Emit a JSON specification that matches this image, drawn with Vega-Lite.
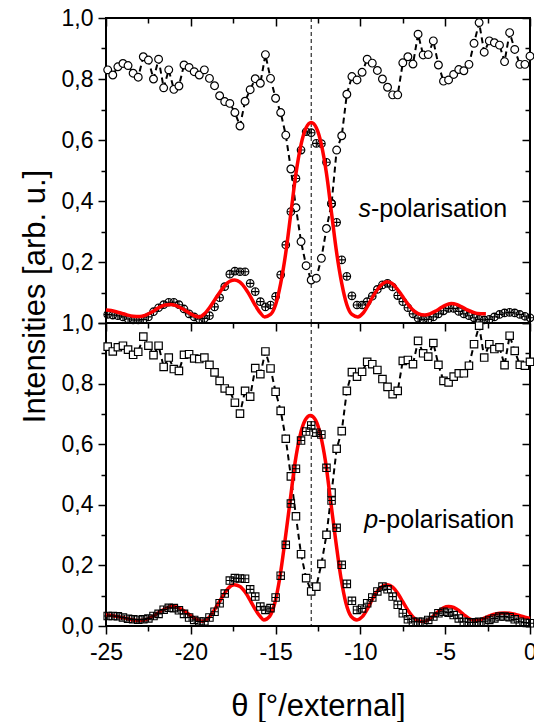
{
"$schema": "https://vega.github.io/schema/vega-lite/v6.json",
"background": "white",
"padding": {"left": 18, "top": 6, "right": 0, "bottom": 0},
"spacing": 0,
"bounds": "flush",
"config": {"font": "Liberation Sans", "view": {"stroke": "black", "strokeWidth": 2}, "axis": {"labelFont": "Liberation Sans", "titleFont": "Liberation Sans", "labelColor": "black", "titleColor": "black", "tickColor": "black", "tickWidth": 1.5, "domain": false, "grid": false, "labelOverlap": false, "labelFlush": false, "labelFontSize": 23, "titleFontSize": 31, "titleFontWeight": "normal"}},
"datasets": {
"s_open": [{"theta":-24.9,"I":0.83},{"theta":-24.6,"I":0.813},{"theta":-24.3,"I":0.84},{"theta":-24.0,"I":0.851},{"theta":-23.7,"I":0.844},{"theta":-23.4,"I":0.819},{"theta":-23.1,"I":0.806},{"theta":-22.8,"I":0.873},{"theta":-22.5,"I":0.862},{"theta":-22.2,"I":0.8},{"theta":-21.9,"I":0.865},{"theta":-21.6,"I":0.771},{"theta":-21.3,"I":0.83},{"theta":-21.0,"I":0.766},{"theta":-20.7,"I":0.777},{"theta":-20.4,"I":0.846},{"theta":-20.1,"I":0.838},{"theta":-19.8,"I":0.824},{"theta":-19.5,"I":0.813},{"theta":-19.2,"I":0.83},{"theta":-18.9,"I":0.802},{"theta":-18.6,"I":0.778},{"theta":-18.3,"I":0.745},{"theta":-18.0,"I":0.726},{"theta":-17.7,"I":0.72},{"theta":-17.4,"I":0.69},{"theta":-17.1,"I":0.646},{"theta":-16.8,"I":0.727},{"theta":-16.5,"I":0.765},{"theta":-16.2,"I":0.801},{"theta":-15.9,"I":0.786},{"theta":-15.6,"I":0.88},{"theta":-15.3,"I":0.802},{"theta":-15.0,"I":0.737},{"theta":-14.7,"I":0.69},{"theta":-14.4,"I":0.616},{"theta":-14.1,"I":0.505},{"theta":-13.8,"I":0.378},{"theta":-13.5,"I":0.267},{"theta":-13.2,"I":0.188},{"theta":-12.9,"I":0.141},{"theta":-12.6,"I":0.147},{"theta":-12.3,"I":0.212},{"theta":-12.0,"I":0.31},{"theta":-11.7,"I":0.391},{"theta":-11.4,"I":0.567},{"theta":-11.1,"I":0.614},{"theta":-10.8,"I":0.75},{"theta":-10.5,"I":0.808},{"theta":-10.2,"I":0.797},{"theta":-9.9,"I":0.822},{"theta":-9.6,"I":0.865},{"theta":-9.3,"I":0.852},{"theta":-9.0,"I":0.828},{"theta":-8.7,"I":0.8},{"theta":-8.4,"I":0.773},{"theta":-8.1,"I":0.748},{"theta":-7.8,"I":0.748},{"theta":-7.5,"I":0.853},{"theta":-7.2,"I":0.873},{"theta":-6.9,"I":0.849},{"theta":-6.6,"I":0.947},{"theta":-6.3,"I":0.879},{"theta":-6.0,"I":0.88},{"theta":-5.7,"I":0.925},{"theta":-5.4,"I":0.846},{"theta":-5.1,"I":0.793},{"theta":-4.8,"I":0.797},{"theta":-4.5,"I":0.815},{"theta":-4.2,"I":0.831},{"theta":-3.9,"I":0.827},{"theta":-3.6,"I":0.848},{"theta":-3.3,"I":0.917},{"theta":-3.0,"I":0.985},{"theta":-2.7,"I":0.888},{"theta":-2.4,"I":0.925},{"theta":-2.1,"I":0.919},{"theta":-1.8,"I":0.911},{"theta":-1.5,"I":0.857},{"theta":-1.2,"I":0.952},{"theta":-0.9,"I":0.897},{"theta":-0.6,"I":0.848},{"theta":-0.3,"I":0.848},{"theta":0.0,"I":0.875}],
"s_cross": [{"theta":-24.9,"I":0.028},{"theta":-24.6,"I":0.026},{"theta":-24.3,"I":0.024},{"theta":-24.0,"I":0.02},{"theta":-23.7,"I":0.013},{"theta":-23.4,"I":0.01},{"theta":-23.1,"I":0.01},{"theta":-22.8,"I":0.011},{"theta":-22.5,"I":0.02},{"theta":-22.2,"I":0.037},{"theta":-21.9,"I":0.05},{"theta":-21.6,"I":0.06},{"theta":-21.3,"I":0.068},{"theta":-21.0,"I":0.068},{"theta":-20.7,"I":0.06},{"theta":-20.4,"I":0.046},{"theta":-20.1,"I":0.03},{"theta":-19.8,"I":0.02},{"theta":-19.5,"I":0.013},{"theta":-19.2,"I":0.015},{"theta":-18.9,"I":0.024},{"theta":-18.6,"I":0.053},{"theta":-18.3,"I":0.083},{"theta":-18.0,"I":0.119},{"theta":-17.7,"I":0.16},{"theta":-17.4,"I":0.17},{"theta":-17.1,"I":0.168},{"theta":-16.8,"I":0.168},{"theta":-16.5,"I":0.13},{"theta":-16.2,"I":0.103},{"theta":-15.9,"I":0.07},{"theta":-15.6,"I":0.053},{"theta":-15.3,"I":0.059},{"theta":-15.0,"I":0.087},{"theta":-14.7,"I":0.158},{"theta":-14.4,"I":0.256},{"theta":-14.1,"I":0.365},{"theta":-13.8,"I":0.474},{"theta":-13.5,"I":0.567},{"theta":-13.2,"I":0.627},{"theta":-12.9,"I":0.624},{"theta":-12.6,"I":0.589},{"theta":-12.3,"I":0.588},{"theta":-12.0,"I":0.527},{"theta":-11.7,"I":0.392},{"theta":-11.4,"I":0.33},{"theta":-11.1,"I":0.207},{"theta":-10.8,"I":0.153},{"theta":-10.5,"I":0.089},{"theta":-10.2,"I":0.059},{"theta":-9.9,"I":0.059},{"theta":-9.6,"I":0.07},{"theta":-9.3,"I":0.088},{"theta":-9.0,"I":0.11},{"theta":-8.7,"I":0.125},{"theta":-8.4,"I":0.13},{"theta":-8.1,"I":0.118},{"theta":-7.8,"I":0.09},{"theta":-7.5,"I":0.07},{"theta":-7.2,"I":0.05},{"theta":-6.9,"I":0.03},{"theta":-6.6,"I":0.016},{"theta":-6.3,"I":0.011},{"theta":-6.0,"I":0.012},{"theta":-5.7,"I":0.02},{"theta":-5.4,"I":0.03},{"theta":-5.1,"I":0.04},{"theta":-4.8,"I":0.048},{"theta":-4.5,"I":0.048},{"theta":-4.2,"I":0.038},{"theta":-3.9,"I":0.03},{"theta":-3.6,"I":0.024},{"theta":-3.3,"I":0.017},{"theta":-3.0,"I":0.012},{"theta":-2.7,"I":0.01},{"theta":-2.4,"I":0.012},{"theta":-2.1,"I":0.02},{"theta":-1.8,"I":0.028},{"theta":-1.5,"I":0.033},{"theta":-1.2,"I":0.035},{"theta":-0.9,"I":0.033},{"theta":-0.6,"I":0.028},{"theta":-0.3,"I":0.022},{"theta":0.0,"I":0.017}],
"s_fit": [{"theta":-25.0,"I":0.043},{"theta":-24.7,"I":0.041},{"theta":-24.4,"I":0.037},{"theta":-24.1,"I":0.032},{"theta":-23.8,"I":0.027},{"theta":-23.4,"I":0.022},{"theta":-23.0,"I":0.021},{"theta":-22.7,"I":0.025},{"theta":-22.4,"I":0.033},{"theta":-22.1,"I":0.043},{"theta":-21.8,"I":0.053},{"theta":-21.5,"I":0.059},{"theta":-21.2,"I":0.061},{"theta":-20.9,"I":0.058},{"theta":-20.6,"I":0.05},{"theta":-20.3,"I":0.04},{"theta":-20.0,"I":0.03},{"theta":-19.75,"I":0.023},{"theta":-19.5,"I":0.02},{"theta":-19.2,"I":0.03},{"theta":-18.9,"I":0.05},{"theta":-18.6,"I":0.075},{"theta":-18.3,"I":0.1},{"theta":-18.0,"I":0.123},{"theta":-17.7,"I":0.137},{"theta":-17.4,"I":0.141},{"theta":-17.1,"I":0.134},{"theta":-16.8,"I":0.115},{"theta":-16.5,"I":0.088},{"theta":-16.2,"I":0.058},{"theta":-15.9,"I":0.033},{"theta":-15.65,"I":0.02},{"theta":-15.3,"I":0.028},{"theta":-15.0,"I":0.06},{"theta":-14.7,"I":0.13},{"theta":-14.4,"I":0.23},{"theta":-14.1,"I":0.36},{"theta":-13.8,"I":0.49},{"theta":-13.5,"I":0.585},{"theta":-13.2,"I":0.64},{"theta":-12.9,"I":0.657},{"theta":-12.6,"I":0.64},{"theta":-12.3,"I":0.585},{"theta":-12.0,"I":0.49},{"theta":-11.7,"I":0.36},{"theta":-11.4,"I":0.23},{"theta":-11.1,"I":0.13},{"theta":-10.8,"I":0.06},{"theta":-10.5,"I":0.028},{"theta":-10.15,"I":0.02},{"theta":-9.85,"I":0.032},{"theta":-9.55,"I":0.058},{"theta":-9.25,"I":0.088},{"theta":-8.95,"I":0.113},{"theta":-8.7,"I":0.128},{"theta":-8.45,"I":0.135},{"theta":-8.15,"I":0.13},{"theta":-7.85,"I":0.113},{"theta":-7.55,"I":0.09},{"theta":-7.25,"I":0.066},{"theta":-6.95,"I":0.045},{"theta":-6.6,"I":0.031},{"theta":-6.2,"I":0.026},{"theta":-5.9,"I":0.03},{"theta":-5.6,"I":0.038},{"theta":-5.3,"I":0.048},{"theta":-5.0,"I":0.058},{"theta":-4.65,"I":0.064},{"theta":-4.3,"I":0.06},{"theta":-4.0,"I":0.052},{"theta":-3.7,"I":0.043},{"theta":-3.4,"I":0.036},{"theta":-3.1,"I":0.031},{"theta":-2.6,"I":0.03}],
"p_open": [{"theta":-24.9,"I":0.922},{"theta":-24.6,"I":0.906},{"theta":-24.3,"I":0.92},{"theta":-24.0,"I":0.925},{"theta":-23.7,"I":0.912},{"theta":-23.4,"I":0.895},{"theta":-23.1,"I":0.905},{"theta":-22.8,"I":0.955},{"theta":-22.5,"I":0.925},{"theta":-22.2,"I":0.894},{"theta":-21.9,"I":0.925},{"theta":-21.6,"I":0.855},{"theta":-21.3,"I":0.886},{"theta":-21.0,"I":0.848},{"theta":-20.7,"I":0.842},{"theta":-20.4,"I":0.895},{"theta":-20.1,"I":0.897},{"theta":-19.8,"I":0.883},{"theta":-19.5,"I":0.881},{"theta":-19.2,"I":0.886},{"theta":-18.9,"I":0.862},{"theta":-18.6,"I":0.837},{"theta":-18.3,"I":0.809},{"theta":-18.0,"I":0.784},{"theta":-17.7,"I":0.776},{"theta":-17.4,"I":0.737},{"theta":-17.1,"I":0.701},{"theta":-16.8,"I":0.776},{"theta":-16.5,"I":0.757},{"theta":-16.2,"I":0.851},{"theta":-15.9,"I":0.831},{"theta":-15.6,"I":0.906},{"theta":-15.3,"I":0.85},{"theta":-15.0,"I":0.773},{"theta":-14.7,"I":0.71},{"theta":-14.4,"I":0.618},{"theta":-14.1,"I":0.494},{"theta":-13.8,"I":0.362},{"theta":-13.5,"I":0.237},{"theta":-13.2,"I":0.158},{"theta":-12.9,"I":0.114},{"theta":-12.6,"I":0.13},{"theta":-12.3,"I":0.205},{"theta":-12.0,"I":0.301},{"theta":-11.7,"I":0.44},{"theta":-11.4,"I":0.585},{"theta":-11.1,"I":0.643},{"theta":-10.8,"I":0.776},{"theta":-10.5,"I":0.838},{"theta":-10.2,"I":0.823},{"theta":-9.9,"I":0.839},{"theta":-9.6,"I":0.872},{"theta":-9.3,"I":0.864},{"theta":-9.0,"I":0.845},{"theta":-8.7,"I":0.815},{"theta":-8.4,"I":0.789},{"theta":-8.1,"I":0.765},{"theta":-7.8,"I":0.776},{"theta":-7.5,"I":0.875},{"theta":-7.2,"I":0.878},{"theta":-6.9,"I":0.864},{"theta":-6.6,"I":0.941},{"theta":-6.3,"I":0.9},{"theta":-6.0,"I":0.889},{"theta":-5.7,"I":0.934},{"theta":-5.4,"I":0.862},{"theta":-5.1,"I":0.809},{"theta":-4.8,"I":0.804},{"theta":-4.5,"I":0.823},{"theta":-4.2,"I":0.834},{"theta":-3.9,"I":0.834},{"theta":-3.6,"I":0.859},{"theta":-3.3,"I":0.93},{"theta":-3.0,"I":0.991},{"theta":-2.7,"I":0.886},{"theta":-2.4,"I":0.93},{"theta":-2.1,"I":0.914},{"theta":-1.8,"I":0.92},{"theta":-1.5,"I":0.861},{"theta":-1.2,"I":0.958},{"theta":-0.9,"I":0.908},{"theta":-0.6,"I":0.862},{"theta":-0.3,"I":0.859},{"theta":0.0,"I":0.872}],
"p_cross": [{"theta":-24.9,"I":0.033},{"theta":-24.6,"I":0.033},{"theta":-24.3,"I":0.032},{"theta":-24.0,"I":0.028},{"theta":-23.7,"I":0.024},{"theta":-23.4,"I":0.022},{"theta":-23.1,"I":0.021},{"theta":-22.8,"I":0.022},{"theta":-22.5,"I":0.025},{"theta":-22.2,"I":0.033},{"theta":-21.9,"I":0.04},{"theta":-21.6,"I":0.054},{"theta":-21.3,"I":0.06},{"theta":-21.0,"I":0.059},{"theta":-20.7,"I":0.052},{"theta":-20.4,"I":0.04},{"theta":-20.1,"I":0.028},{"theta":-19.8,"I":0.02},{"theta":-19.5,"I":0.015},{"theta":-19.2,"I":0.015},{"theta":-18.9,"I":0.028},{"theta":-18.6,"I":0.047},{"theta":-18.3,"I":0.075},{"theta":-18.0,"I":0.107},{"theta":-17.7,"I":0.15},{"theta":-17.4,"I":0.158},{"theta":-17.1,"I":0.157},{"theta":-16.8,"I":0.156},{"theta":-16.5,"I":0.121},{"theta":-16.2,"I":0.097},{"theta":-15.9,"I":0.064},{"theta":-15.6,"I":0.053},{"theta":-15.3,"I":0.059},{"theta":-15.0,"I":0.094},{"theta":-14.7,"I":0.166},{"theta":-14.4,"I":0.268},{"theta":-14.1,"I":0.404},{"theta":-13.8,"I":0.519},{"theta":-13.5,"I":0.612},{"theta":-13.2,"I":0.642},{"theta":-12.9,"I":0.662},{"theta":-12.6,"I":0.638},{"theta":-12.3,"I":0.632},{"theta":-12.0,"I":0.522},{"theta":-11.7,"I":0.414},{"theta":-11.4,"I":0.324},{"theta":-11.1,"I":0.202},{"theta":-10.8,"I":0.139},{"theta":-10.5,"I":0.083},{"theta":-10.2,"I":0.053},{"theta":-9.9,"I":0.058},{"theta":-9.6,"I":0.075},{"theta":-9.3,"I":0.094},{"theta":-9.0,"I":0.114},{"theta":-8.7,"I":0.13},{"theta":-8.4,"I":0.121},{"theta":-8.1,"I":0.097},{"theta":-7.8,"I":0.07},{"theta":-7.5,"I":0.042},{"theta":-7.2,"I":0.022},{"theta":-6.9,"I":0.014},{"theta":-6.6,"I":0.014},{"theta":-6.3,"I":0.014},{"theta":-6.0,"I":0.02},{"theta":-5.7,"I":0.031},{"theta":-5.4,"I":0.042},{"theta":-5.1,"I":0.047},{"theta":-4.8,"I":0.044},{"theta":-4.5,"I":0.036},{"theta":-4.2,"I":0.025},{"theta":-3.9,"I":0.014},{"theta":-3.6,"I":0.012},{"theta":-3.3,"I":0.012},{"theta":-3.0,"I":0.014},{"theta":-2.7,"I":0.014},{"theta":-2.4,"I":0.02},{"theta":-2.1,"I":0.025},{"theta":-1.8,"I":0.031},{"theta":-1.5,"I":0.031},{"theta":-1.2,"I":0.029},{"theta":-0.9,"I":0.022},{"theta":-0.6,"I":0.014},{"theta":-0.3,"I":0.011},{"theta":0.0,"I":0.009}],
"p_fit": [{"theta":-25.0,"I":0.036},{"theta":-24.6,"I":0.034},{"theta":-24.2,"I":0.03},{"theta":-23.8,"I":0.025},{"theta":-23.4,"I":0.02},{"theta":-23.0,"I":0.018},{"theta":-22.6,"I":0.022},{"theta":-22.2,"I":0.033},{"theta":-21.8,"I":0.048},{"theta":-21.4,"I":0.06},{"theta":-21.05,"I":0.064},{"theta":-20.7,"I":0.06},{"theta":-20.3,"I":0.046},{"theta":-19.9,"I":0.03},{"theta":-19.5,"I":0.018},{"theta":-19.3,"I":0.016},{"theta":-19.0,"I":0.024},{"theta":-18.7,"I":0.045},{"theta":-18.4,"I":0.072},{"theta":-18.1,"I":0.1},{"theta":-17.8,"I":0.124},{"theta":-17.45,"I":0.136},{"theta":-17.1,"I":0.13},{"theta":-16.8,"I":0.112},{"theta":-16.5,"I":0.085},{"theta":-16.2,"I":0.055},{"theta":-15.9,"I":0.031},{"theta":-15.7,"I":0.02},{"theta":-15.35,"I":0.032},{"theta":-15.05,"I":0.075},{"theta":-14.75,"I":0.16},{"theta":-14.45,"I":0.28},{"theta":-14.15,"I":0.41},{"theta":-13.85,"I":0.54},{"theta":-13.55,"I":0.63},{"theta":-13.25,"I":0.68},{"theta":-12.95,"I":0.695},{"theta":-12.65,"I":0.68},{"theta":-12.35,"I":0.63},{"theta":-12.05,"I":0.54},{"theta":-11.75,"I":0.41},{"theta":-11.45,"I":0.28},{"theta":-11.15,"I":0.16},{"theta":-10.85,"I":0.075},{"theta":-10.55,"I":0.032},{"theta":-10.2,"I":0.02},{"theta":-9.9,"I":0.03},{"theta":-9.6,"I":0.055},{"theta":-9.3,"I":0.088},{"theta":-9.0,"I":0.115},{"theta":-8.7,"I":0.131},{"theta":-8.4,"I":0.136},{"theta":-8.1,"I":0.128},{"theta":-7.8,"I":0.108},{"theta":-7.5,"I":0.08},{"theta":-7.2,"I":0.052},{"theta":-6.9,"I":0.03},{"theta":-6.6,"I":0.018},{"theta":-6.3,"I":0.015},{"theta":-6.0,"I":0.02},{"theta":-5.7,"I":0.033},{"theta":-5.4,"I":0.048},{"theta":-5.1,"I":0.06},{"theta":-4.8,"I":0.064},{"theta":-4.5,"I":0.061},{"theta":-4.2,"I":0.051},{"theta":-3.9,"I":0.037},{"theta":-3.6,"I":0.025},{"theta":-3.3,"I":0.019},{"theta":-3.0,"I":0.02},{"theta":-2.7,"I":0.026},{"theta":-2.4,"I":0.033},{"theta":-2.1,"I":0.039},{"theta":-1.8,"I":0.042},{"theta":-1.5,"I":0.043},{"theta":-1.2,"I":0.042},{"theta":-0.9,"I":0.039},{"theta":-0.6,"I":0.034},{"theta":-0.3,"I":0.029},{"theta":0.0,"I":0.025}]
},
"vconcat": [
{
"width": 424, "height": 305,
"resolve": {"axis": {"x": "independent", "y": "independent"}},
"layer": [
{"data": {"values": [{}]}, "mark": {"type": "rule", "color": "black", "strokeWidth": 1, "strokeDash": [4, 3]},
 "encoding": {"x": {"datum": -12.9, "type": "quantitative", "axis": null}}},
{"data": {"name": "s_open"}, "mark": {"type": "line", "color": "black", "strokeWidth": 2, "strokeDash": [6, 4]},
 "encoding": {
  "x": {"field": "theta", "type": "quantitative", "scale": {"domain": [-25, 0], "nice": false, "zero": false},
   "axis": {"orient": "bottom", "values": [-25,-22.5,-20,-17.5,-15,-12.5,-10,-7.5,-5,-2.5,0], "labels": false, "title": null, "tickSize": {"condition": {"test": "datum.value % 5 == 0", "value": 8}, "value": 5}}},
  "y": {"field": "I", "type": "quantitative", "scale": {"domain": [0, 1], "nice": false},
   "axis": {"orient": "left", "values": [0,0.1,0.2,0.3,0.4,0.5,0.6,0.7,0.8,0.9,1], "labelExpr": "(round(datum.value*10) % 2 == 0 && datum.value > 0.05) ? replace(format(datum.value, '.1f'), '.', ',') : ''", "tickSize": {"condition": {"test": "round(datum.value*10) % 2 == 0", "value": 8}, "value": 5}, "labelPadding": 5, "title": "Intensities [arb. u.]", "titleY": 278, "titlePadding": 10}}
 }},
{"data": {"name": "s_open"}, "mark": {"type": "point", "shape": "circle", "filled": true, "fill": "white", "stroke": "black", "strokeWidth": 1.2, "size": 60, "opacity": 1},
 "encoding": {
  "x": {"field": "theta", "type": "quantitative",
   "axis": {"orient": "top", "values": [-25,-22.5,-20,-17.5,-15,-12.5,-10,-7.5,-5,-2.5,0], "labels": false, "title": null, "tickSize": {"condition": {"test": "datum.value % 5 == 0", "value": -8}, "value": -5}}},
  "y": {"field": "I", "type": "quantitative",
   "axis": {"orient": "right", "values": [0,0.1,0.2,0.3,0.4,0.5,0.6,0.7,0.8,0.9,1], "labels": false, "title": null, "tickSize": {"condition": {"test": "round(datum.value*10) % 2 == 0", "value": -8}, "value": -5}}}
 }},
{"data": {"name": "s_cross"}, "mark": {"type": "point", "shape": "M-1,0A1,1 0 1,1 1,0A1,1 0 1,1 -1,0ZM-1,0L1,0M0,-1L0,1", "filled": false, "stroke": "black", "strokeWidth": 1.1, "size": 58, "opacity": 1},
 "encoding": {"x": {"field": "theta", "type": "quantitative", "axis": null}, "y": {"field": "I", "type": "quantitative", "axis": null}}},
{"data": {"name": "s_fit"}, "mark": {"type": "line", "color": "#ff0000", "strokeWidth": 3.5, "interpolate": "monotone"},
 "encoding": {"x": {"field": "theta", "type": "quantitative", "axis": null}, "y": {"field": "I", "type": "quantitative", "axis": null}}},
{"data": {"values": [{}]}, "mark": {"type": "text", "text": "s", "fontStyle": "italic", "fontSize": 25, "align": "right", "baseline": "alphabetic", "color": "black"},
 "encoding": {"x": {"datum": -9.38, "type": "quantitative", "axis": null}, "y": {"datum": 0.349, "type": "quantitative", "axis": null}}},
{"data": {"values": [{}]}, "mark": {"type": "text", "text": "-polarisation", "fontSize": 25, "align": "left", "baseline": "alphabetic", "color": "black"},
 "encoding": {"x": {"datum": -9.38, "type": "quantitative", "axis": null}, "y": {"datum": 0.349, "type": "quantitative", "axis": null}}}
]
},
{
"width": 424, "height": 303,
"resolve": {"axis": {"x": "independent", "y": "independent"}},
"layer": [
{"data": {"values": [{}]}, "mark": {"type": "rule", "color": "black", "strokeWidth": 1, "strokeDash": [4, 3]},
 "encoding": {"x": {"datum": -12.9, "type": "quantitative", "axis": null}}},
{"data": {"name": "p_open"}, "mark": {"type": "line", "color": "black", "strokeWidth": 2, "strokeDash": [6, 4]},
 "encoding": {
  "x": {"field": "theta", "type": "quantitative", "scale": {"domain": [-25, 0], "nice": false, "zero": false},
   "axis": {"orient": "bottom", "values": [-25,-22.5,-20,-17.5,-15,-12.5,-10,-7.5,-5,-2.5,0], "labelExpr": "datum.value % 5 == 0 ? toString(datum.value) : ''", "labelPadding": 7, "tickSize": {"condition": {"test": "datum.value % 5 == 0", "value": 8}, "value": 5}, "title": "θ [°/external]", "titlePadding": 27}},
  "y": {"field": "I", "type": "quantitative", "scale": {"domain": [0, 1], "nice": false},
   "axis": {"orient": "left", "values": [0,0.1,0.2,0.3,0.4,0.5,0.6,0.7,0.8,0.9,1], "labelExpr": "round(datum.value*10) % 2 == 0 ? replace(format(datum.value, '.1f'), '.', ',') : ''", "tickSize": {"condition": {"test": "round(datum.value*10) % 2 == 0", "value": 8}, "value": 5}, "labelPadding": 5, "title": null}}
 }},
{"data": {"name": "p_open"}, "mark": {"type": "point", "shape": "square", "filled": true, "fill": "white", "stroke": "black", "strokeWidth": 1.2, "size": 55, "opacity": 1},
 "encoding": {
  "x": {"field": "theta", "type": "quantitative", "axis": null},
  "y": {"field": "I", "type": "quantitative",
   "axis": {"orient": "right", "values": [0,0.1,0.2,0.3,0.4,0.5,0.6,0.7,0.8,0.9,1], "labels": false, "title": null, "tickSize": {"condition": {"test": "round(datum.value*10) % 2 == 0", "value": -8}, "value": -5}}}
 }},
{"data": {"name": "p_fit"}, "mark": {"type": "line", "color": "#ff0000", "strokeWidth": 3.5, "interpolate": "monotone"},
 "encoding": {"x": {"field": "theta", "type": "quantitative", "axis": null}, "y": {"field": "I", "type": "quantitative", "axis": null}}},
{"data": {"name": "p_cross"}, "mark": {"type": "point", "shape": "M-1,-1L1,-1L1,1L-1,1ZM-1,0L1,0M0,-1L0,1", "filled": false, "stroke": "black", "strokeWidth": 1.1, "size": 55, "opacity": 1},
 "encoding": {"x": {"field": "theta", "type": "quantitative", "axis": null}, "y": {"field": "I", "type": "quantitative", "axis": null}}},
{"data": {"values": [{}]}, "mark": {"type": "text", "text": "p", "fontStyle": "italic", "fontSize": 25, "align": "right", "baseline": "alphabetic", "color": "black"},
 "encoding": {"x": {"datum": -8.96, "type": "quantitative", "axis": null}, "y": {"datum": 0.3235, "type": "quantitative", "axis": null}}},
{"data": {"values": [{}]}, "mark": {"type": "text", "text": "-polarisation", "fontSize": 25, "align": "left", "baseline": "alphabetic", "color": "black"},
 "encoding": {"x": {"datum": -8.96, "type": "quantitative", "axis": null}, "y": {"datum": 0.3235, "type": "quantitative", "axis": null}}}
]
}
]
}
